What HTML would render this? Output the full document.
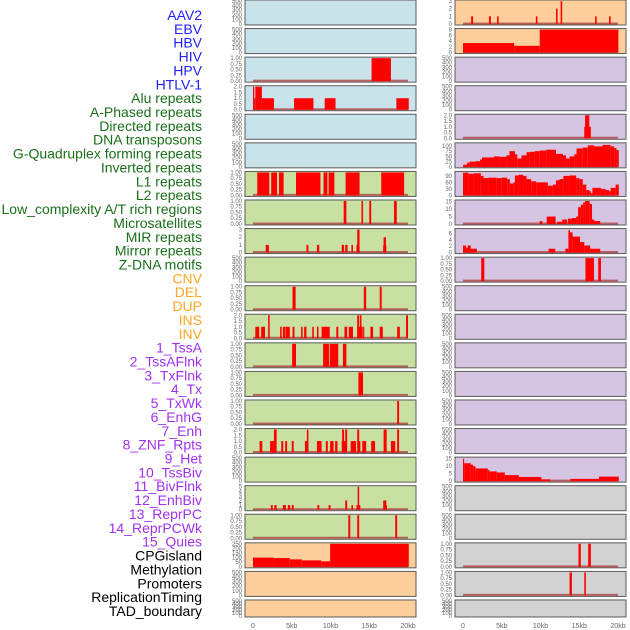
<!DOCTYPE html>
<html><head><meta charset="utf-8">
<style>
html,body{margin:0;padding:0;background:#fff;}
svg{display:block;font-family:"Liberation Sans",sans-serif;}
</style></head>
<body>
<svg id="chart" width="630" height="630" viewBox="0 0 630 630"></svg>
<script>
const trackNames = ["AAV2","EBV","HBV","HIV","HPV","HTLV-1","Alu repeats","A-Phased repeats","Directed repeats","DNA transposons","G-Quadruplex forming repeats","Inverted repeats","L1 repeats","L2 repeats","Low_complexity A/T rich regions","Microsatellites","MIR repeats","Mirror repeats","Z-DNA motifs","CNV","DEL","DUP","INS","INV","1_TssA","2_TssAFlnk","3_TxFlnk","4_Tx","5_TxWk","6_EnhG","7_Enh","8_ZNF_Rpts","9_Het","10_TssBiv","11_BivFlnk","12_EnhBiv","13_ReprPC","14_ReprPCWk","15_Quies","CPGisland","Methylation","Promoters","ReplicationTiming","TAD_boundary"];
const trackGroups = ["v","v","v","v","v","v","r","r","r","r","r","r","r","r","r","r","r","r","r","s","s","s","s","s","c","c","c","c","c","c","c","c","c","c","c","c","c","c","c","o","o","o","o","o"];
const xTickLabels = ["0","5kb","10kb","15kb","20kb"];
const xTickValues = [0,5,10,15,20];
const E = [0,100,200,300,400,500];
const T1 = [0,0.25,0.5,0.75,1];
const T2 = [0,0.5,1,1.5,2];
// y-axis max per panel (left col rows 0-21, right col rows 22-43)
const yMax = [500,500,1,2,500,500,1,1,3,500,1,2,1,1,1,2,500,5,1,250,500,500,
              3,8,500,500,2,110,106,15.5,7.2,1,500,500,500,500,500,500,15.4,500,500,1,1,500];
const yTicks = [E,E,T1,T2,E,E,T1,T1,[0,1,2,3],E,T1,T2,T1,T1,T1,T2,E,[0,1,2,3,4,5],T1,[0,50,100,150,200,250],E,E,
                [0,1,2,3],[0,2,4,6,8],E,E,T2,[0,25,50,75,100],[0,30,60,90],[0,5,10,15],[0,2,4,6],T1,E,E,E,E,E,E,[0,5,10,15],E,E,T1,T1,E];
// segments [startKb, endKb, value]
const segments = [
 [],[],
 [[15.3,17.8,1]],
 [[0,0.17,2],[0.17,0.3,1],[0.3,1.15,2],[1.15,2.7,1],[5.3,7.8,1],[9.25,10.65,1],[18.5,20.1,1]],
 [],[],
 [[0.55,2.1,1],[2.35,3.1,1],[3.35,3.95,1],[5.55,8.7,1],[9.1,9.6,1],[9.75,10.5,1],[11.95,13.75,1],[16.55,19.5,1]],
 [[11.7,12.05,1],[14.0,14.2,1],[15.0,15.25,1],[18.2,18.55,1]],
 [[1.65,2.05,1],[6.9,7.15,1],[8.25,8.55,1],[11.45,11.75,1],[11.9,12.2,1],[12.7,12.9,1],[13.35,13.75,1],[13.45,13.75,3],[16.8,17.2,1],[16.85,17.15,2]],
 [],
 [[5.1,5.5,1],[14.3,14.6,1],[16.35,16.6,1]],
 [[0.3,0.8,1],[1.05,1.55,1],[1.95,2.15,2],[3.5,3.7,1],[3.85,4.2,1],[4.25,4.75,1],[5.1,5.35,1],[6.2,6.4,1],[6.6,6.9,1],[7.65,7.85,1],[8.25,8.45,1],[8.85,9.9,1],[10.75,11.0,1],[11.8,12.15,1],[12.35,12.9,1],[13.45,14.15,1],[13.45,13.7,2],[13.8,14.0,2],[14.2,14.35,1],[15.15,15.5,1],[16.35,16.75,1],[18.6,18.95,1],[19.75,20.0,2]],
 [[5.05,5.55,1],[9.05,9.8,1],[9.9,11.0,1],[11.6,12.05,1]],
 [[13.6,14.2,1]],
 [[18.6,18.85,1]],
 [[0.85,1.2,1],[2.2,2.6,1],[2.45,2.7,1],[2.7,3.05,2],[3.65,3.9,1],[4.15,4.4,1],[5.0,5.25,1],[6.7,7.15,1],[6.95,7.15,2],[8.25,8.85,1],[9.4,9.65,1],[9.95,10.4,1],[10.6,10.9,1],[11.45,12.0,1],[11.5,11.75,2],[11.9,12.15,2],[12.6,13.3,1],[13.45,13.7,2],[13.5,13.85,1],[14.1,14.6,1],[15.25,15.75,1],[16.85,17.25,2],[17.8,18.35,1],[18.6,18.85,2]],
 [],
 [[2.3,2.55,1],[2.75,3.05,1],[3.85,4.25,1],[4.5,4.8,1],[5.0,5.25,1],[8.3,8.55,1],[9.75,10.0,1],[11.9,12.15,2],[12.7,12.9,1],[13.35,13.85,1],[13.5,13.7,5],[16.8,17.2,2],[17.0,17.3,1]],
 [[12.3,12.55,1],[13.45,13.7,1],[18.35,18.6,1]],
 [[0,2.7,100],[2.7,4.75,95],[4.75,6.3,81],[6.3,8.8,70],[8.8,9.95,60],[9.95,20.1,250]],
 [],[],
 [[1.05,1.3,1],[3.35,3.6,1],[4.4,4.6,1],[9.4,9.6,1],[12.0,12.2,2],[12.6,12.8,3],[17.05,17.25,1],[18.85,19.05,1]],
 [[0,6.6,3.3],[6.6,9.9,2.35],[9.9,20.05,8]],
 [],[],
 [[15.65,16.5,1],[15.75,16.3,2]],
 [[0,0.5,10],[0.5,0.85,20],[0.85,1.6,25],[1.6,2.2,27],[2.2,2.45,35],[2.45,4.0,45],[4.0,4.7,50],[4.7,5.6,48],[5.6,6.0,55],[6.0,6.7,75],[6.7,7.0,60],[7.0,7.55,40],[7.55,8.2,55],[8.2,8.6,70],[8.6,9.25,72],[9.25,9.9,75],[9.9,10.75,78],[10.75,12.0,82],[12.0,12.9,62],[12.9,13.3,55],[13.3,13.75,40],[13.75,14.35,50],[14.35,14.65,60],[14.65,15.45,88],[15.45,16.1,92],[16.1,16.9,103],[16.9,18.0,98],[18.0,19.05,105],[19.05,19.5,98],[19.5,19.8,90],[19.8,20.1,80]],
 [[0,0.7,105],[0.7,1.4,100],[1.4,2.3,102],[2.3,2.65,90],[2.65,3.3,80],[3.3,4.35,82],[4.35,5.0,80],[5.0,5.7,82],[5.7,6.05,75],[6.05,6.5,55],[6.5,6.7,60],[6.7,7.15,92],[7.15,7.75,95],[7.75,8.2,90],[8.2,8.8,75],[8.8,9.45,65],[9.45,10.95,60],[10.95,11.6,45],[11.6,12.0,50],[12.0,12.45,70],[12.45,12.95,75],[12.95,13.75,90],[13.75,14.6,92],[14.6,15.0,80],[15.0,15.45,75],[15.45,15.9,50],[15.9,16.3,25],[16.3,16.5,20],[16.5,16.7,10],[16.7,17.8,35],[17.8,18.4,30],[18.4,18.85,25],[18.85,19.05,20],[19.05,19.7,35],[19.7,20.1,50]],
 [[9.9,10.25,2],[10.8,11.95,5],[12.15,12.8,1.5],[12.8,13.45,3],[13.55,14.05,3.6],[14.05,14.6,4],[14.6,14.85,5],[14.85,15.2,11.3],[15.2,15.5,13],[15.5,15.75,14.5],[15.75,16.35,15.5],[16.35,16.65,13.5],[16.65,16.95,3],[16.95,17.7,2]],
 [[0,0.4,2.2],[0.4,0.6,1.5],[0.6,1.0,2.2],[1.0,1.8,1.2],[11.05,11.9,1.2],[13.2,13.6,1.2],[13.6,13.8,7],[13.8,14.15,6.3],[14.15,15.1,5],[15.1,15.65,3.3],[15.65,16.4,2.2],[16.4,17.7,1.2]],
 [[2.35,2.75,1],[15.8,16.9,1],[17.45,17.8,1]],
 [],[],[],[],[],[],
 [[0,0.15,15],[0.15,1.0,12],[1.0,1.3,11],[1.3,1.6,10],[1.6,3.2,8.5],[3.2,3.4,7.5],[3.4,4.35,6.5],[4.35,5.4,5.8],[5.4,7.2,4],[7.2,10.1,2.8],[10.1,11.25,1.2],[13.85,17.55,1.5],[17.55,20.1,3]],
 [],[],
 [[14.9,15.2,1],[16.15,16.5,1]],
 [[13.75,14.05,1],[15.65,15.85,1]],
 []
];
const groupLabelColor = {v:"#2222ff",r:"#1a701a",s:"#ffa522",c:"#a032f0",o:"#000000"};
const panelBg = {v:"#c9e3eb",r:"#c8e0a2",s:"#fecf9c",c:"#d6c5e2",o:"#d2d2d2"};

const svg = document.getElementById('chart');
const NS = "http://www.w3.org/2000/svg";
function mk(tag, attrs){const e=document.createElementNS(NS,tag);for(const k in attrs)e.setAttribute(k,attrs[k]);return e;}

// labels
trackNames.forEach((name,i)=>{
  const t = mk('text',{x:202,y:15+i*13.86+5,'text-anchor':'end','font-size':'14',fill:groupLabelColor[trackGroups[i]]});
  t.textContent = name;
  
  
  svg.appendChild(t);
});

const ROWH = 28.57;
function xScale(kb,col){return (col===0?253:463) + kb*7.75;}
for(let i=0;i<44;i++){
  const col = i<22?0:1, row = i%22;
  const px = col===0?245:455;
  const top = row*ROWH;
  const h = row===21?17:25;
  const bot = top+h-1, ytop = top+1;
  const ys = v => bot - (v/yMax[i])*(bot-ytop);
  const g = mk('g',{});
  
  
  const bg = mk('rect',{x:px,y:top,width:171,height:h,fill:panelBg[trackGroups[i]],stroke:'#5a5a5a','stroke-width':1});
  
  
  g.appendChild(bg);
  // ticks
  yTicks[i].forEach(v=>{
    const tt = mk('text',{x:px-3,y:ys(v)+2,'text-anchor':'end','font-size':'6',fill:'#666'});
    tt.textContent = (yTicks[i]===T1)? v.toFixed(2) : (yTicks[i]===T2 ? v.toFixed(1) : String(v));
    
    
    g.appendChild(tt);
  });
  const segs = segments[i];
  if(segs.length){
    const bl = mk('line',{x1:xScale(0,col),x2:xScale(20,col),y1:bot-0.5,y2:bot-0.5,stroke:'#b04545','stroke-width':2,opacity:0.8});
    
    
    g.appendChild(bl);
    segs.forEach(s=>{
      const x1 = xScale(s[0],col), x2 = xScale(s[1],col), y = ys(s[2]);
      const r = mk('rect',{x:x1,y:y,width:Math.max(1,x2-x1),height:bot-y,fill:'#ff0000'});
      
      
      g.appendChild(r);
    });
  }
  svg.appendChild(g);
}
// x ticks
[0,1].forEach(col=>{
  xTickValues.forEach((v,k)=>{
    const t = mk('text',{x:xScale(v,col),y:628,'text-anchor':'middle','font-size':'7',fill:'#666'});
    t.textContent = xTickLabels[k];
    
    
    svg.appendChild(t);
  });
});
</script>
</body></html>
